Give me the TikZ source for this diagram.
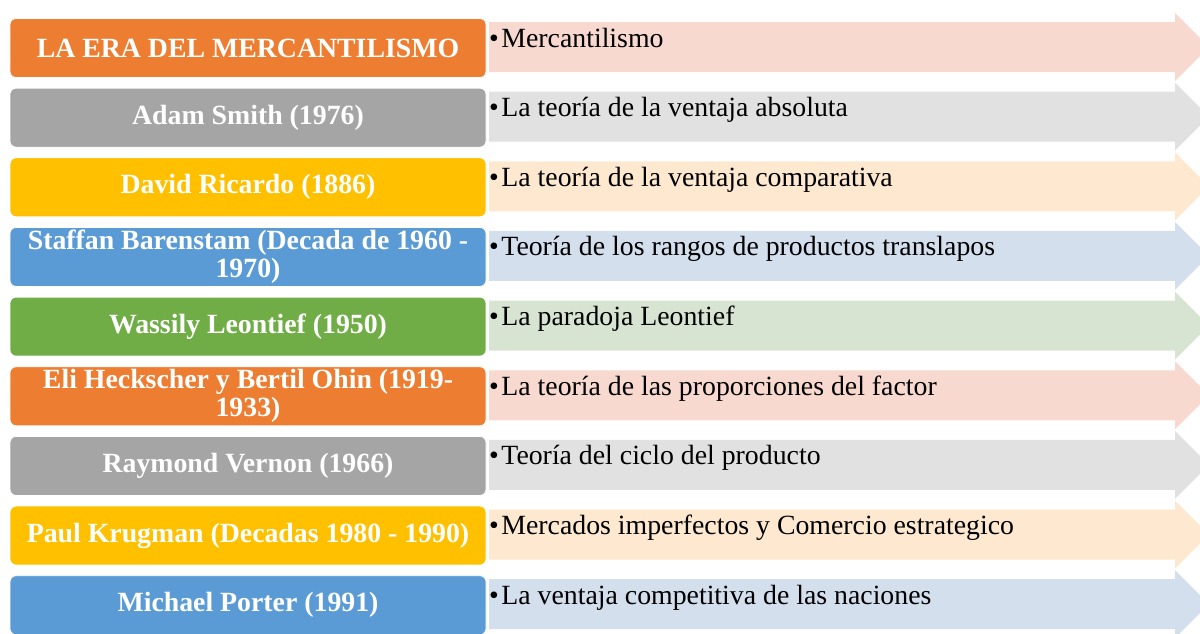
\documentclass[tikz,border=0pt]{standalone}
\usepackage{fontspec}
\setmainfont{Liberation Serif}
\definecolor{cOr}{HTML}{ED7D31}
\definecolor{cGr}{HTML}{A5A5A5}
\definecolor{cYe}{HTML}{FFC000}
\definecolor{cBl}{HTML}{5B9BD5}
\definecolor{cGn}{HTML}{70AD47}
\definecolor{lOr}{HTML}{F8D9CF}
\definecolor{lGr}{HTML}{E1E1E1}
\definecolor{lYe}{HTML}{FEE9D0}
\definecolor{lBl}{HTML}{D4DFEE}
\definecolor{lGn}{HTML}{D8E4D2}
\begin{document}
\begin{tikzpicture}[x=1pt,y=-1pt,
  leftbox/.style={rounded corners=6pt, draw=white, line width=0.8pt,
    minimum width=476pt, minimum height=59pt, inner sep=0pt,
    text=white, align=center,
    font=\fontsize{27.8}{28}\selectfont\bfseries},
  itemtext/.style={anchor=base west, inner sep=0pt, text=black,
    font=\fontsize{27.8}{28}\selectfont}]
\useasboundingbox (0,0) rectangle (1200,633);
\clip (0,0) rectangle (1200,633);
\foreach \i/\fc/\lc/\who/\what in {
  1/cOr/lOr/{LA ERA DEL MERCANTILISMO}/{Mercantilismo},
  2/cGr/lGr/{Adam Smith (1976)}/{La teoría de la ventaja absoluta},
  3/cYe/lYe/{David Ricardo (1886)}/{La teoría de la ventaja comparativa},
  4/cBl/lBl/{Staffan Barenstam (Decada de 1960 -\\1970)}/{Teoría de los rangos de productos translapos},
  5/cGn/lGn/{Wassily Leontief (1950)}/{La paradoja Leontief},
  6/cOr/lOr/{Eli Heckscher y Bertil Ohin (1919-\\1933)}/{La teoría de las proporciones del factor},
  7/cGr/lGr/{Raymond Vernon (1966)}/{Teoría del ciclo del producto},
  8/cYe/lYe/{Paul Krugman (Decadas 1980 - 1990)}/{Mercados imperfectos y Comercio estrategico},
  9/cBl/lBl/{Michael Porter (1991)}/{La ventaja competitiva de las naciones}} {
  \pgfmathsetmacro\t{18+(\i-1)*69.65}
  % light arrow
  \fill[\lc] (489,\t+4) -- (1175,\t+4) -- (1175,\t-5) -- (1209,\t+29)
     -- (1175,\t+63) -- (1175,\t+54) -- (489,\t+54) -- cycle;
  % coloured box
  \node[leftbox, fill=\fc] (l\i) at (248,\t+30) {\who};
  % item text
  \node[itemtext] (r\i) at (489,\t+29) {•\hspace{2.5pt}\what};
}
\end{tikzpicture}
\end{document}
